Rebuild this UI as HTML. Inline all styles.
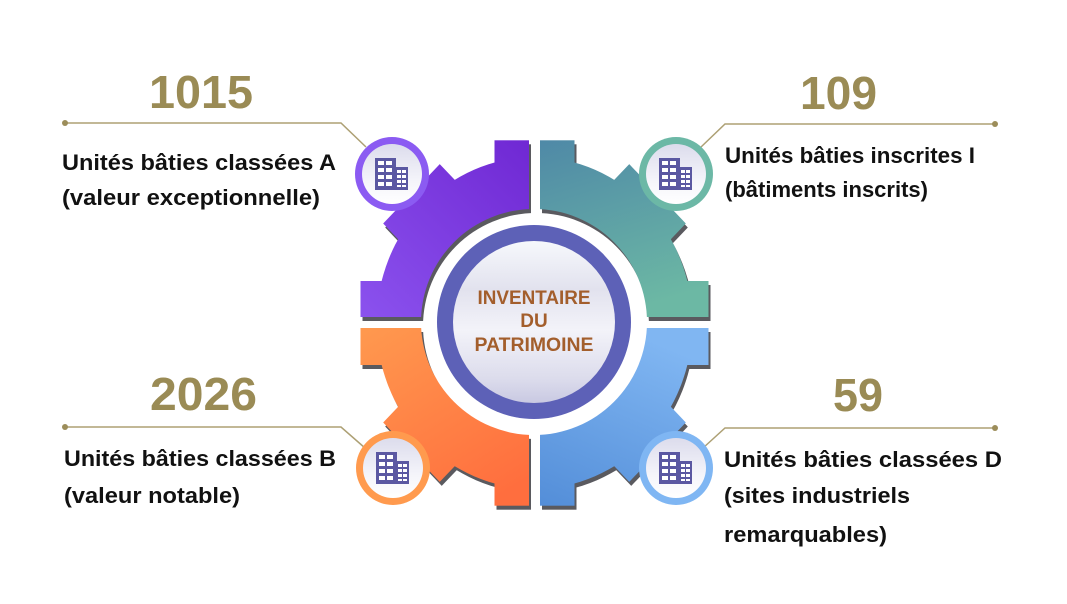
<!DOCTYPE html>
<html><head><meta charset="utf-8"><style>
html,body{margin:0;padding:0;background:#fff;}
svg{display:block;}
text{font-family:"Liberation Sans",sans-serif;}
</style></head><body>
<svg width="1067" height="604" viewBox="0 0 1067 604" xmlns="http://www.w3.org/2000/svg">
<defs>
<mask id="gm" maskUnits="userSpaceOnUse" x="0" y="0" width="1067" height="604">
  <rect x="0" y="0" width="1067" height="604" fill="black"/>
  <g transform="translate(534.5,323) scale(1,1.05)">
    <circle r="158" fill="white"/>
    <g fill="white">
      <rect x="-40" y="-174" width="80" height="40"/>
      <rect x="-40" y="-174" width="80" height="40" transform="rotate(45)"/>
      <rect x="-40" y="-174" width="80" height="40" transform="rotate(90)"/>
      <rect x="-40" y="-174" width="80" height="40" transform="rotate(135)"/>
      <rect x="-40" y="-174" width="80" height="40" transform="rotate(180)"/>
      <rect x="-40" y="-174" width="80" height="40" transform="rotate(225)"/>
      <rect x="-40" y="-174" width="80" height="40" transform="rotate(270)"/>
      <rect x="-40" y="-174" width="80" height="40" transform="rotate(315)"/>
    </g>
  </g>
  <circle cx="534" cy="322" r="113" fill="black"/>
  <rect x="529" y="100" width="11" height="450" fill="black"/>
  <rect x="300" y="317" width="470" height="11" fill="black"/>
</mask>
<linearGradient id="gTL" x1="0" y1="1" x2="1" y2="0"><stop offset="0" stop-color="#8d55f0"/><stop offset="1" stop-color="#6e26d2"/></linearGradient>
<linearGradient id="gTR" x1="0" y1="0" x2="0.3" y2="1"><stop offset="0" stop-color="#4d86a7"/><stop offset="1" stop-color="#6cb8a4"/></linearGradient>
<linearGradient id="gBL" x1="0" y1="0" x2="0.6" y2="1"><stop offset="0" stop-color="#ff9c50"/><stop offset="1" stop-color="#ff6e3e"/></linearGradient>
<linearGradient id="gBR" x1="0.4" y1="0" x2="0" y2="1"><stop offset="0" stop-color="#80b6f2"/><stop offset="1" stop-color="#4f8ad6"/></linearGradient>
<linearGradient id="gIn" x1="0" y1="0" x2="0" y2="1"><stop offset="0" stop-color="#dcdcec"/><stop offset="0.6" stop-color="#f4f4fa"/><stop offset="1" stop-color="#ffffff"/></linearGradient>
<linearGradient id="gCen" x1="0" y1="0" x2="0" y2="1"><stop offset="0" stop-color="#f6f8fc"/><stop offset="0.3" stop-color="#e2e2ee"/><stop offset="0.55" stop-color="#f3f3f9"/><stop offset="0.85" stop-color="#dcdcec"/><stop offset="1" stop-color="#c9c9e2"/></linearGradient>
<g id="bld">
  <rect x="-18" y="-16" width="21" height="32" fill="#5b58a2"/>
  <rect x="2" y="-7" width="13" height="23" fill="#5b58a2"/>
  <g fill="#fff">
    <rect x="-15" y="-13" width="6" height="4"/><rect x="-7" y="-13" width="6" height="4"/>
    <rect x="-15" y="-6" width="6" height="4"/><rect x="-7" y="-6" width="6" height="4"/>
    <rect x="-15" y="1" width="6" height="4"/><rect x="-7" y="1" width="6" height="4"/>
    <rect x="-15" y="8" width="6" height="4"/><rect x="-7" y="8" width="6" height="4"/>
    <rect x="4" y="-4" width="4" height="3"/><rect x="9" y="-4" width="4" height="3"/>
    <rect x="4" y="1" width="4" height="3"/><rect x="9" y="1" width="4" height="3"/>
    <rect x="4" y="6" width="4" height="3"/><rect x="9" y="6" width="4" height="3"/>
    <rect x="4" y="11" width="4" height="2"/><rect x="9" y="11" width="4" height="2"/>
  </g>
</g>
</defs>

<g transform="translate(2,4)" opacity="0.85">
  <rect x="300" y="100" width="470" height="450" fill="#3e3e44" mask="url(#gm)"/>
</g>
<g mask="url(#gm)">
  <rect x="340" y="130" width="195" height="193" fill="url(#gTL)"/>
  <rect x="535" y="130" width="190" height="193" fill="url(#gTR)"/>
  <rect x="340" y="323" width="195" height="200" fill="url(#gBL)"/>
  <rect x="535" y="323" width="190" height="200" fill="url(#gBR)"/>
</g>

<circle cx="534" cy="322" r="97" fill="#5d61b7"/>
<circle cx="534" cy="322" r="81" fill="url(#gCen)"/>
<g fill="#a35e2c" font-size="19" text-anchor="middle" font-weight="bold">
  <text x="534" y="304" textLength="113" lengthAdjust="spacingAndGlyphs">INVENTAIRE</text>
  <text x="534" y="327">DU</text>
  <text x="534" y="351" textLength="119" lengthAdjust="spacingAndGlyphs">PATRIMOINE</text>
</g>

<g stroke="#ada074" stroke-width="1.5" fill="none">
  <polyline points="65,123 341,123 366,147"/>
  <polyline points="995,124 725,124 701,147"/>
  <polyline points="65,427 341,427 365,448"/>
  <polyline points="995,428 725,428 703,448"/>
</g>
<g fill="#9c8d5a">
  <circle cx="65" cy="123" r="3"/><circle cx="995" cy="124" r="3"/>
  <circle cx="65" cy="427" r="3"/><circle cx="995" cy="428" r="3"/>
</g>

<g>
  <circle cx="392" cy="174" r="37" fill="#8b5bf2"/>
  <circle cx="392" cy="174" r="30" fill="url(#gIn)"/>
  <use href="#bld" x="393" y="174"/>
  <circle cx="676" cy="174" r="37" fill="#6cb8a6"/>
  <circle cx="676" cy="174" r="30" fill="url(#gIn)"/>
  <use href="#bld" x="677" y="174"/>
  <circle cx="393" cy="468" r="37" fill="#ff9a4e"/>
  <circle cx="393" cy="468" r="30" fill="url(#gIn)"/>
  <use href="#bld" x="394" y="468"/>
  <circle cx="676" cy="468" r="37" fill="#7fb6f3"/>
  <circle cx="676" cy="468" r="30" fill="url(#gIn)"/>
  <use href="#bld" x="677" y="468"/>
</g>

<g fill="#9a8b55" font-size="46" font-weight="bold">
  <text x="149" y="108" textLength="104" lengthAdjust="spacingAndGlyphs">1015</text>
  <text x="800" y="109" textLength="77" lengthAdjust="spacingAndGlyphs">109</text>
  <text x="150" y="410" textLength="107" lengthAdjust="spacingAndGlyphs">2026</text>
  <text x="833" y="411" textLength="50" lengthAdjust="spacingAndGlyphs">59</text>
</g>

<g fill="#111" font-size="22" font-weight="bold">
  <text x="62" y="170" textLength="274" lengthAdjust="spacingAndGlyphs">Unités bâties classées A</text>
  <text x="62" y="205" textLength="258" lengthAdjust="spacingAndGlyphs">(valeur exceptionnelle)</text>
  <text x="725" y="163" textLength="250" lengthAdjust="spacingAndGlyphs">Unités bâties inscrites I</text>
  <text x="725" y="197" textLength="203" lengthAdjust="spacingAndGlyphs">(bâtiments inscrits)</text>
  <text x="64" y="466" textLength="272" lengthAdjust="spacingAndGlyphs">Unités bâties classées B</text>
  <text x="64" y="503" textLength="176" lengthAdjust="spacingAndGlyphs">(valeur notable)</text>
  <text x="724" y="467" textLength="278" lengthAdjust="spacingAndGlyphs">Unités bâties classées D</text>
  <text x="724" y="503" textLength="186" lengthAdjust="spacingAndGlyphs">(sites industriels</text>
  <text x="724" y="542" textLength="163" lengthAdjust="spacingAndGlyphs">remarquables)</text>
</g>
</svg>
</body></html>
